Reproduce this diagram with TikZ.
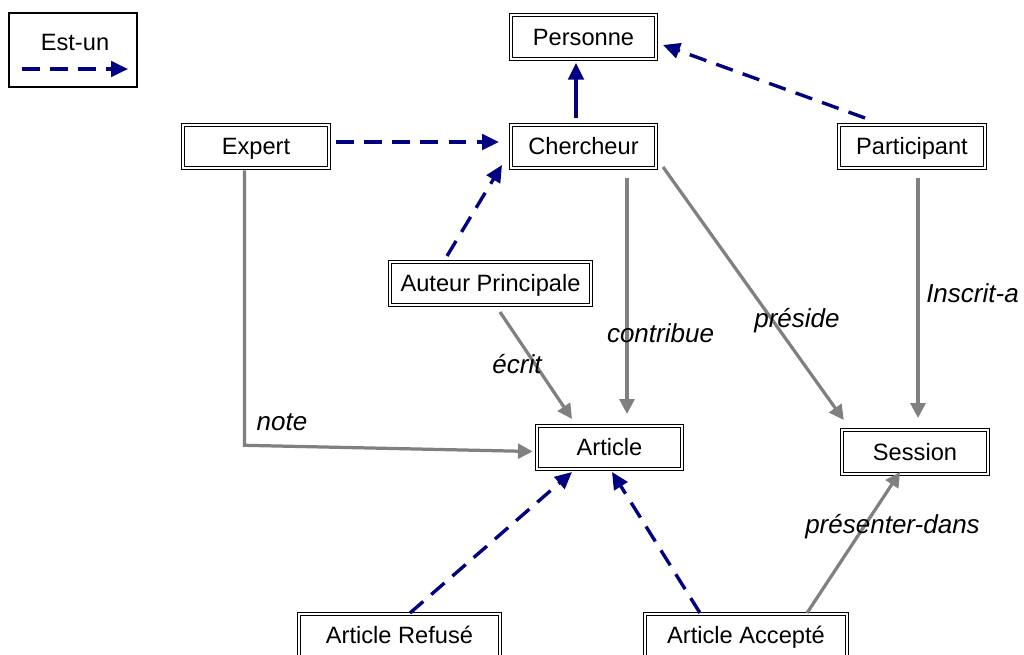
\documentclass[tikz,border=0pt]{standalone}
\usepackage{fontspec}
\setmainfont{Liberation Sans}
\usepackage{tikz}
\usetikzlibrary{arrows.meta}
\usetikzlibrary{calc}
\definecolor{isablue}{HTML}{000080}
\definecolor{relgray}{HTML}{808080}

\begin{document}
\begin{tikzpicture}[x=0.025cm, y=-0.025cm,
    boxtxt/.style={font=\fontsize{16.8}{20}\selectfont, text height=12pt, text depth=0pt, inner sep=0pt},
    box/.style={boxtxt, draw, double, line width=0.75pt, double distance=1.3pt,
      minimum height=1.09cm, outer sep=0pt},
    isa/.style={isablue, line width=2.4pt, -{Triangle[length=12pt,width=11pt]}},
    isadash/.style={isa, dash pattern=on 12.5pt off 7.5pt},
    rel/.style={relgray, line width=2.3pt, -{Triangle[length=10.5pt,width=10.5pt]}},
    lbl/.style={font=\fontsize{18.5}{22}\selectfont\itshape, inner sep=0pt, anchor=base}]
    \useasboundingbox (0,0) rectangle (1024,655);
    \clip (0,0) rectangle (1024,655);
    % Legende
    \node[draw, line width=1pt, outer sep=0pt, minimum width=3.2cm, minimum height=1.85cm] (legende) at (73,50) {};
    \node[boxtxt] (legendetxt) at (75,42) {Est-un};
    \draw[isadash] ($(legende.south west)+(13,-18)$) -- ($(legende.south east)+(-9,-18)$);
    % Entites
    \foreach \name/\x/\y/\w/\txt in
    {
      personne/583.5/37/3.64/Personne,
      chercheur/583.5/146.5/3.64/Chercheur,
      expert/256/146.5/3.65/Expert,
      participant/912/146.5/3.65/Participant,
      auteur/490.5/283.5/5.03/Auteur Principale,
      article/609.5/447.5/3.64/Article,
      session/915/452/3.65/Session,
      refuse/399.5/635.5/5.03/Article Refusé,
      accepte/746/635.5/5.05/Article Accepté
    }
    {
      \node[box, minimum width=\w cm] (\name) at (\x,\y) {\txt};
    };
    % Est-un
    \draw[isa] ($(chercheur.north)+(-7.5,-7)$) -- ($(personne.south)+(-7.5,4)$);
    \draw[isadash] ($(participant.north)+(-47,-6.7)$) -- ($(personne.east)+(6.7,8)$);
    \draw[isadash] ($(expert.east)+(7,-4.5)$) -- ($(chercheur.west)+(-11.7,-4.5)$);
    \draw[isadash] ($(auteur.north)+(-43.5,-5.7)$) -- ($(chercheur.south west)+(-8.7,-3.3)$);
    \draw[isadash] ($(refuse.north)+(10.5,-0.7)$) -- ($(article.south)+(-37.5,2.7)$);
    \draw[isadash] ($(accepte.north)+(-46,-0.7)$) -- ($(article.south)+(2.5,2.7)$);
    % Relations
    \draw[rel] ($(expert.south)+(-11.5,2)$) -- ++(0,275) -- ($(article.west)+(-4,4)$);
    \draw[rel] ($(auteur.south)+(9.5,6.7)$) -- ($(article.north)+(-37.5,-6.7)$);
    \draw[rel] ($(chercheur.south)+(43.5,9.7)$) -- ($(article.north)+(17.5,-11.7)$);
    \draw[rel] ($(chercheur.south east)+(6.7,-1.3)$) -- ($(session.north west)+(1.8,-10.2)$);
    \draw[rel] ($(participant.south)+(6,9.7)$) -- ($(session.north)+(3,-12.2)$);
    \draw[rel] ($(accepte.north)+(61,-0.7)$) -- ($(session.south)+(-15,-1.8)$);
    \node[lbl] (note) at (282,430) {note};
    \node[lbl] (ecrit) at (517,373) {écrit};
    \node[lbl] (contribue) at (660.5,342) {contribue};
    \node[lbl] (preside) at (797,328) {préside};
    \node[lbl] (inscrit) at (972.5,303) {Inscrit-a};
    \node[lbl] (presenter) at (892.5,533) {présenter-dans};
\end{tikzpicture}
\end{document}
